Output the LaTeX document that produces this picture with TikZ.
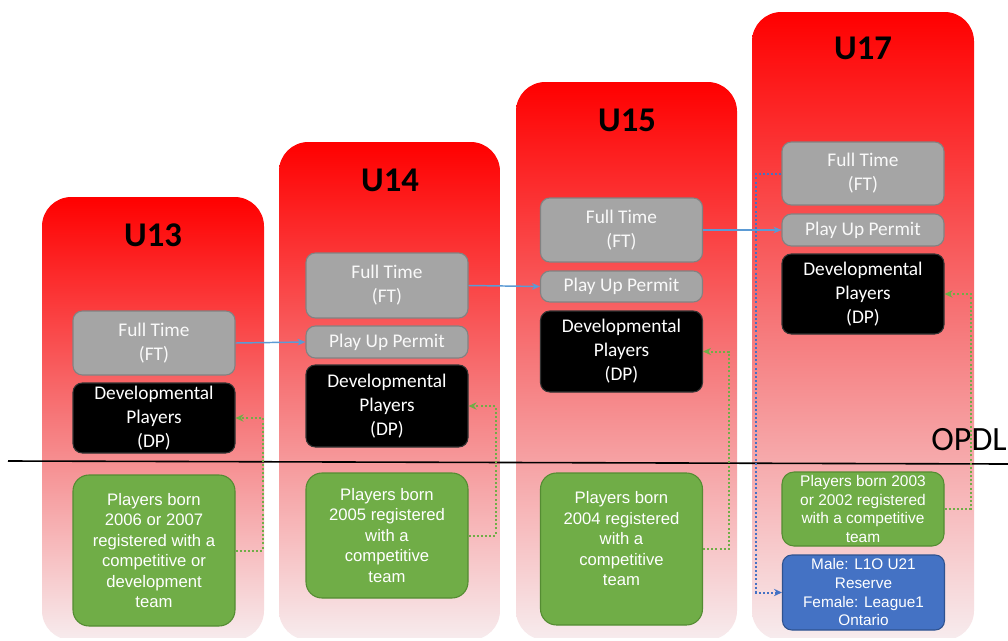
\documentclass[tikz,border=0pt]{standalone}
\usepackage{fontspec}
\setmainfont{Carlito}
\newfontfamily\gfont{Liberation Sans}
\usetikzlibrary{arrows.meta}
\definecolor{colbot}{RGB}{247,236,238}
\definecolor{ftgray}{RGB}{165,165,165}
\definecolor{ftborder}{RGB}{130,130,130}
\definecolor{gfill}{RGB}{112,173,71}
\definecolor{gborder}{RGB}{84,140,50}
\definecolor{bfill}{RGB}{68,114,196}
\definecolor{bborder}{RGB}{47,82,143}
\definecolor{arrowblue}{RGB}{91,155,213}
\definecolor{dotblue}{RGB}{68,114,196}
\definecolor{dotgreen}{RGB}{112,173,71}
\tikzset{
  column/.style={rounded corners=22pt, top color=red, bottom color=colbot, middle color={rgb,255:red,246;green,120;blue,122}},
  title/.style={font=\fontsize{26}{30}\selectfont\bfseries, text=black},
  base/.style={rounded corners=7pt, minimum width=121.5pt, inner sep=0pt, align=center, line width=0.8pt},
  ftbox/.style={base, fill=ftgray, draw=ftborder, text=white!95!gray, font=\fontsize{14.5}{18}\selectfont},
  dpbox/.style={base, fill=black, draw=black!80, text=white, font=\fontsize{14.5}{18}\selectfont},
  gbox/.style={base, rounded corners=12pt, fill=gfill, draw=gborder, text=white, font=\gfont\fontsize{12.5}{15.4}\selectfont},
  bbox/.style={base, fill=bfill, draw=bborder, text=white, font=\gfont\fontsize{11.5}{14}\selectfont},
  solidarrow/.style={draw=arrowblue, line width=1.1pt, -{Stealth[length=6pt,width=5pt]}},
  greendot/.style={draw=dotgreen, line width=1.5pt, dash pattern=on 1.5pt off 1.6pt, -{Stealth[length=6pt,width=5.5pt]}},
  bluedot/.style={draw=dotblue, line width=1.5pt, dash pattern=on 1.5pt off 1.6pt, -{Stealth[length=6pt,width=5.5pt]}},
}
\begin{document}
\begin{tikzpicture}[x=0.75pt,y=-0.75pt]
\useasboundingbox (0,0) rectangle (1008,640);
\fill[white] (0,0) rectangle (1008,640);
% columns
\shade[column] (42,197) rectangle (264,640);
\shade[column] (279,142) rectangle (500,640);
\shade[column] (516,82) rectangle (737,640);
\shade[column] (752,12) rectangle (974,640);
\fill[white] (0,638) rectangle (1008,642);
% titles
\node[title] (t13) at (153,235) {U13};
\node[title] (t14) at (390,180) {U14};
\node[title] (t15) at (627,120) {U15};
\node[title] (t17) at (863,48) {U17};
% OPDL line
\coordinate (lineL) at (8,461);
\coordinate (lineR) at (1008,464);
\draw[line width=1.2pt, black] (lineL) -- (lineR);
\node[anchor=east, font=\fontsize{25.5}{30}\selectfont, inner sep=0pt] (opdl) at (1007,440) {OPDL};
% U13
\node[ftbox, minimum height=48pt] (ft13) at (154,343) {Full Time\\(FT)};
\node[dpbox, minimum height=52.5pt] (dp13) at (154,418) {Developmental\\Players\\(DP)};
\node[gbox, minimum height=113.25pt] (g13) at (154,550.5) {Players born\\2006 or 2007\\registered with a\\competitive or\\development\\team};
% U14
\node[ftbox, minimum height=48.75pt] (ft14) at (387,285.5) {Full Time\\(FT)};
\node[ftbox, minimum height=24pt] (pup14) at (387,342) {Play Up Permit};
\node[dpbox, minimum height=61.5pt] (dp14) at (387,406) {Developmental\\Players\\(DP)};
\node[gbox, minimum height=93.75pt] (g14) at (387,535.5) {Players born\\2005 registered\\with a\\competitive\\team};
% U15
\node[ftbox, minimum height=48pt] (ft15) at (621.5,230) {Full Time\\(FT)};
\node[ftbox, minimum height=23.25pt] (pup15) at (621.5,286.5) {Play Up Permit};
\node[dpbox, minimum height=60.75pt] (dp15) at (621.5,351.5) {Developmental\\Players\\(DP)};
\node[gbox, minimum height=114pt] (g15) at (621.5,549) {Players born\\2004 registered\\with a\\competitive\\team\\\mbox{}};
% U17
\node[ftbox, minimum height=47.25pt] (ft17) at (863,173.5) {Full Time\\(FT)};
\node[ftbox, minimum height=24pt] (pup17) at (863,230) {Play Up Permit};
\node[dpbox, minimum height=60pt] (dp17) at (863,294) {Developmental\\Players\\(DP)};
\node[gbox, rounded corners=9pt, minimum height=55.5pt, font=\gfont\fontsize{11.6}{14}\selectfont] (g17) at (863,509) {Players born 2003\\or 2002 registered\\with a competitive\\team};
\node[bbox, minimum height=56.25pt] (b17) at (863.5,592.5) {Male: L1O U21\\Reserve\\Female: League1\\Ontario};
% solid arrows
\draw[solidarrow] (ft13.east) -- (pup14.west);
\draw[solidarrow] (ft14.east) -- (pup15.west);
\draw[solidarrow] (ft15.east) -- (pup17.west);
% green dotted
\draw[greendot] (g13.east) -- ++(27,0) |- (dp13.east);
\draw[greendot] (g14.east) -- ++(27,0) |- (dp14.east);
\draw[greendot] (g15.east) -- ++(26,0) |- (dp15.east);
\draw[greendot] (g17.east) -- ++(26,0) |- (dp17.east);
% blue dotted
\draw[bluedot] (ft17.west) -- ++(-25,0) |- (b17.west);
\end{tikzpicture}
\end{document}
